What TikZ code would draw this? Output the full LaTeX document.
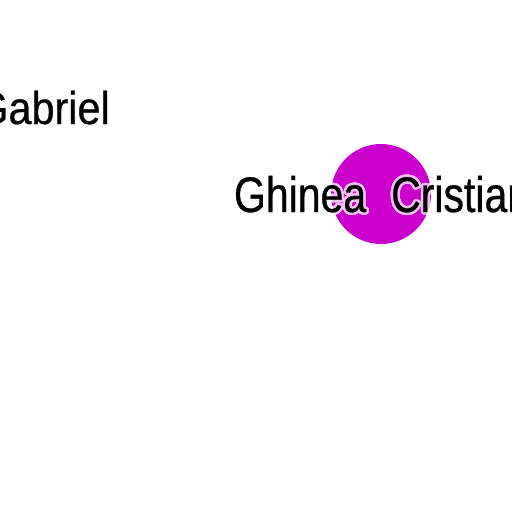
\documentclass[tikz,border=0pt]{standalone}
\usepackage{fontspec}
\usetikzlibrary{calc}
\newfontfamily\namefontA{Liberation Sans}[FakeStretch=0.9,FakeBold=0.6]
\newfontfamily\namefontB{Liberation Sans}[FakeStretch=0.82,FakeBold=0.6]
\definecolor{dotmagenta}{RGB}{204,0,204}
\tikzset{
  namelabel/.style={anchor=base west, inner sep=0pt, outer sep=0pt, text=black},
  halolabel/.style={anchor=base west, inner sep=0pt, outer sep=0pt, text=white},
  dot/.style={circle, fill=dotmagenta, draw=none, minimum size=100pt, inner sep=0pt}
}
\begin{document}
\begin{tikzpicture}[x=1pt,y=-1pt]
\useasboundingbox (0,0) rectangle (512,512);
\fill[white] (0,0) rectangle (512,512);
\node[dot] (d) at (381,194) {};
\coordinate (pa) at (-23.7,124);
\coordinate (pb) at (234,212);
\begin{scope}[transparency group, opacity=0.75]
  \foreach \a in {0,22.5,...,337.5}{
    \node[halolabel, font=\namefontA\fontsize{46}{46}\selectfont] at ($(pa)+(\a:2.5)$) {Gabriel};
    \node[halolabel, font=\namefontB\fontsize{50}{50}\selectfont] at ($(pb)+(\a:2.5)$) {Ghinea\hspace{25pt}Cristian};
  }
\end{scope}
\node[namelabel, font=\namefontA\fontsize{46}{46}\selectfont] (ga) at (pa) {Gabriel};
\node[namelabel, font=\namefontB\fontsize{50}{50}\selectfont] (gc) at (pb) {Ghinea\hspace{25pt}Cristian};
\end{tikzpicture}
\end{document}
